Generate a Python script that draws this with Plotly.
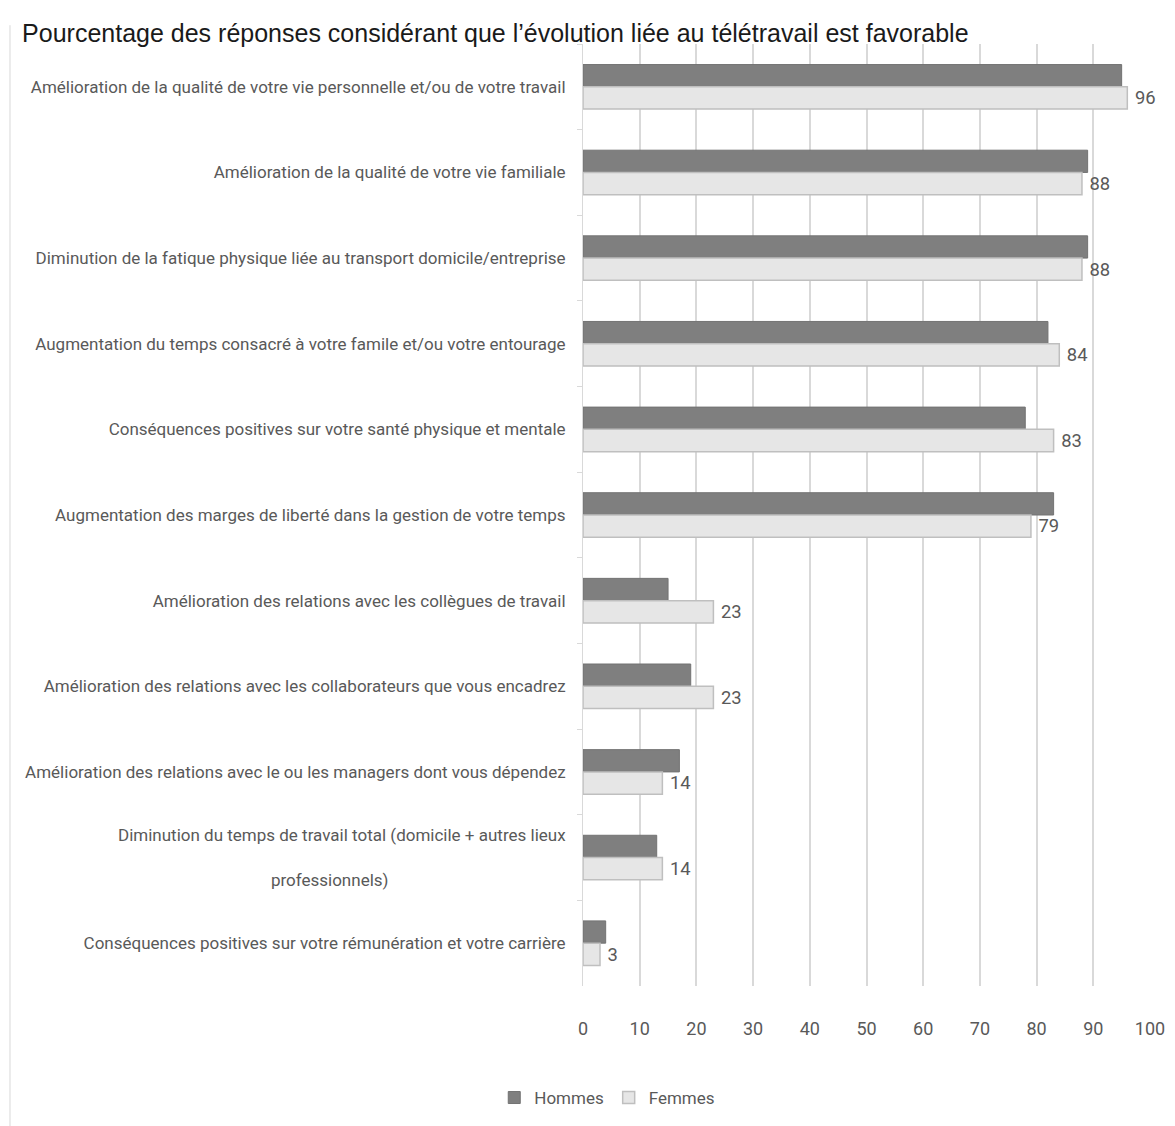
import plotly.graph_objects as go

categories = [
    "Amélioration de la qualité de votre vie personnelle et/ou de votre travail",
    "Amélioration de la qualité de votre vie familiale",
    "Diminution de la fatique physique liée au transport domicile/entreprise",
    "Augmentation du temps consacré à votre famile et/ou votre entourage",
    "Conséquences positives sur votre santé physique et mentale",
    "Augmentation des marges de liberté dans la gestion de votre temps",
    "Amélioration des relations avec les collègues de travail",
    "Amélioration des relations avec les collaborateurs que vous encadrez",
    "Amélioration des relations avec le ou les managers dont vous dépendez",
    "Diminution du temps de travail total (domicile + autres lieux<br>\u00a0<br>professionnels)" + "\u00a0" * 42,
    "Conséquences positives sur votre rémunération et votre carrière",
]
hommes = [95, 89, 89, 82, 78, 83, 15, 19, 17, 13, 4]
femmes = [96, 88, 88, 84, 83, 79, 23, 23, 14, 14, 3]
x_ticks = [0, 10, 20, 30, 40, 50, 60, 70, 80, 90, 100]

title = "Pourcentage des réponses considérant que l’évolution liée au télétravail est favorable"

narrow = "Roboto, Liberation Sans, sans-serif"

fig = go.Figure()
fig.add_trace(go.Bar(
    name="Hommes", y=categories, x=hommes, orientation="h",
    marker=dict(color="#7f7f7f", line=dict(color="#737373", width=1)),
))
fig.add_trace(go.Bar(
    name="Femmes", y=categories, x=femmes, orientation="h",
    marker=dict(color="#e6e6e6", line=dict(color="#bfbfbf", width=1.5)),
    text=["\u00a0" + str(v) for v in femmes], textposition="outside",
    textfont=dict(family=narrow, size=19, color="#595959"),
    cliponaxis=False,
))

fig.update_layout(
    width=1175, height=1126,
    paper_bgcolor="white", plot_bgcolor="white",
    margin=dict(l=575, r=33, t=36, b=148),
    barmode="group", bargap=0.48, bargroupgap=0,
    title=dict(text=title, x=0.012, xanchor="left", y=0.978, yanchor="middle",
               xref="container", yref="container",
               font=dict(family="Liberation Sans, Arial, sans-serif", size=25, color="#1a1a1a")),
    legend=dict(orientation="h", x=0.51, xanchor="center", xref="container",
                y=0.032, yanchor="middle", yref="container",
                font=dict(family=narrow, size=17, color="#595959"),
                itemwidth=30, traceorder="normal"),
    showlegend=True,
)
fig.update_yaxes(
    autorange="reversed", type="category", automargin=False,
    showline=True, linecolor="#d9d9d9", linewidth=1,
    ticks="outside", ticklen=5, tickcolor="#d9d9d9", tickson="boundaries",
    ticklabelstandoff=13,
    tickfont=dict(family=narrow, size=17, color="#595959"),
    showgrid=False,
)
fig.update_xaxes(
    range=[0, 100], tickvals=x_ticks, ticktext=[str(v) for v in x_ticks],
    automargin=False,
    showgrid=True, gridcolor="#d9d9d9", gridwidth=1.5,
    zeroline=False, showline=False, ticks="",
    ticklabelstandoff=30,
    tickfont=dict(family=narrow, size=18, color="#595959"),
)
fig.add_shape(type="line", xref="paper", yref="paper",
              x0=-1.0106, x1=-1.0106, y0=-0.16, y1=1.02,
              line=dict(color="#d9d9d9", width=1))

fig.write_html("out.html")
